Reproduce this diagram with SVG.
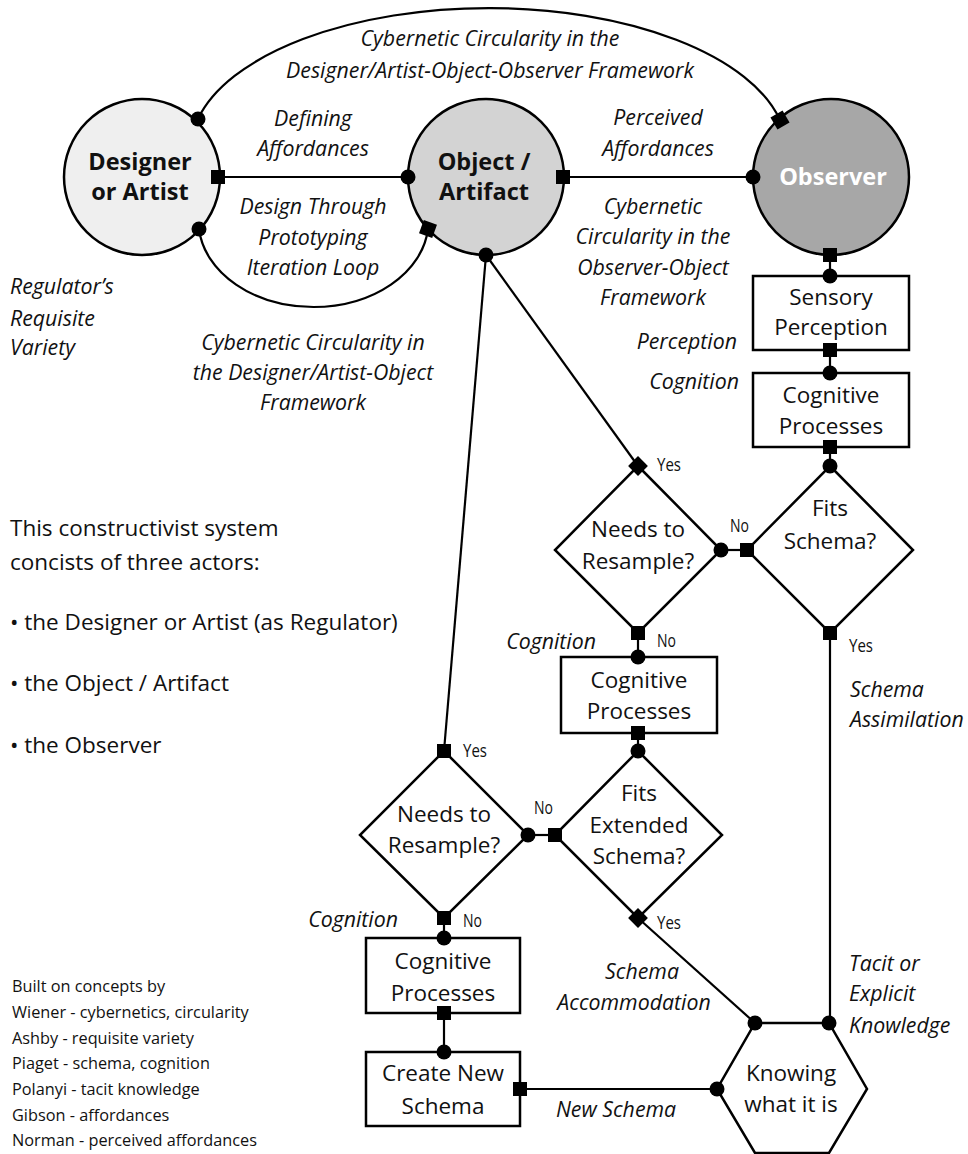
<svg xmlns="http://www.w3.org/2000/svg" width="968" height="1154" viewBox="0 0 968 1154">
<defs>
<style>
.shape{stroke:#000;stroke-width:2.5;}
.ln{stroke:#000;stroke-width:2.2;fill:none;}
.dot{fill:#000;}
.t{font-family:"Open Sans","Noto Sans","DejaVu Sans",sans-serif;fill:#111;text-anchor:middle;}
.n{font-size:22.5px;}
.b{font-size:23.5px;font-weight:bold;}
.i{font-family:"Open Sans","Noto Sans","DejaVu Sans",sans-serif;font-style:italic;font-size:21.3px;fill:#111;}
.c{text-anchor:middle;}
.r{text-anchor:end;}
.s{font-family:"Open Sans","Noto Sans","DejaVu Sans",sans-serif;font-size:17.5px;fill:#111;}
.body{font-family:"Open Sans","Noto Sans","DejaVu Sans",sans-serif;font-size:22.5px;fill:#111;}
.cr{font-family:"Open Sans","Noto Sans","DejaVu Sans",sans-serif;font-size:16.3px;fill:#111;}
</style>
<circle id="mdot" r="7.5" class="dot"/>
<rect id="msq" x="-7" y="-7" width="14" height="14" class="dot"/>
</defs>
<rect width="968" height="1154" fill="#fff"/>

<g id="connectors">
<path class="ln" d="M198,119 A298,142 0 0 1 780,120"/>
<path class="ln" d="M199,229 A115,86 0 0 0 428,229"/>
<line class="ln" x1="218" y1="177" x2="408" y2="177"/>
<line class="ln" x1="563" y1="177" x2="753" y2="177"/>
<line class="ln" x1="486" y1="255" x2="444" y2="751"/>
<line class="ln" x1="486" y1="255" x2="638" y2="466"/>
<line class="ln" x1="830" y1="255" x2="830" y2="276"/>
<line class="ln" x1="830" y1="350" x2="830" y2="373"/>
<line class="ln" x1="830" y1="447" x2="830" y2="466"/>
<line class="ln" x1="721" y1="550" x2="747" y2="550"/>
<line class="ln" x1="638" y1="633" x2="638" y2="657"/>
<line class="ln" x1="638" y1="733" x2="638" y2="751"/>
<line class="ln" x1="528" y1="835" x2="555" y2="835"/>
<line class="ln" x1="444" y1="918" x2="444" y2="938"/>
<line class="ln" x1="444" y1="1013" x2="444" y2="1052"/>
<line class="ln" x1="520" y1="1089" x2="717" y2="1089"/>
<line class="ln" x1="638" y1="918" x2="755" y2="1023"/>
<line class="ln" x1="830" y1="633" x2="830" y2="1023"/>
</g>

<g id="designer">
<circle class="shape" cx="142" cy="177" r="78" fill="#efefef"/>
<text class="t b" x="140" y="170">Designer</text>
<text class="t b" x="140" y="200">or Artist</text>
</g>
<g id="object">
<circle class="shape" cx="486" cy="177" r="78" fill="#d3d3d3"/>
<text class="t b" x="484" y="170">Object /</text>
<text class="t b" x="484" y="200">Artifact</text>
</g>
<g id="observer">
<circle class="shape" cx="831" cy="177" r="78" fill="#a7a7a7"/>
<text class="t b" x="833" y="185" style="fill:#fff">Observer</text>
</g>
<g id="sensory">
<rect class="shape" x="753" y="276" width="156" height="74" fill="#fff"/>
<text class="t n" x="831" y="305">Sensory</text>
<text class="t n" x="831" y="335">Perception</text>
</g>
<g id="cognitive1">
<rect class="shape" x="753" y="373" width="156" height="74" fill="#fff"/>
<text class="t n" x="831" y="403">Cognitive</text>
<text class="t n" x="831" y="434">Processes</text>
</g>
<g id="fits-schema">
<polygon class="shape" points="830,466 913,550 830,633 747,550" fill="#fff"/>
<text class="t n" x="830" y="516">Fits</text>
<text class="t n" x="830" y="549">Schema?</text>
</g>
<g id="resample1">
<polygon class="shape" points="638,466 721,550 638,633 555,550" fill="#fff"/>
<text class="t n" x="638" y="537">Needs to</text>
<text class="t n" x="638" y="569">Resample?</text>
</g>
<g id="cognitive2">
<rect class="shape" x="561" y="657" width="156" height="76" fill="#fff"/>
<text class="t n" x="639" y="688">Cognitive</text>
<text class="t n" x="639" y="719">Processes</text>
</g>
<g id="fits-extended">
<polygon class="shape" points="638,751 722,835 638,918 555,835" fill="#fff"/>
<text class="t n" x="639" y="801">Fits</text>
<text class="t n" x="639" y="833">Extended</text>
<text class="t n" x="639" y="864">Schema?</text>
</g>
<g id="resample2">
<polygon class="shape" points="444,751 528,835 444,918 360,835" fill="#fff"/>
<text class="t n" x="444" y="822">Needs to</text>
<text class="t n" x="444" y="853">Resample?</text>
</g>
<g id="cognitive3">
<rect class="shape" x="366" y="938" width="154" height="75" fill="#fff"/>
<text class="t n" x="443" y="969">Cognitive</text>
<text class="t n" x="443" y="1001">Processes</text>
</g>
<g id="create-schema">
<rect class="shape" x="366" y="1052" width="154" height="74" fill="#fff"/>
<text class="t n" x="443" y="1081">Create New</text>
<text class="t n" x="443" y="1114">Schema</text>
</g>
<g id="knowing">
<polygon class="shape" points="755,1023 829,1023 867,1089 829,1153 755,1153 717,1089" fill="#fff"/>
<text class="t n" x="791" y="1081">Knowing</text>
<text class="t n" x="791" y="1112">what it is</text>
</g>

<g id="markers">
<use href="#mdot" x="198" y="119"/>
<use href="#mdot" x="199" y="229"/>
<use href="#msq" x="218" y="177"/>
<use href="#mdot" x="408" y="177"/>
<use href="#msq" x="563" y="177"/>
<use href="#mdot" x="753" y="177"/>
<use href="#msq" transform="translate(780,120) rotate(60)"/>
<use href="#msq" transform="translate(428,229) rotate(20)"/>
<use href="#mdot" x="486" y="255"/>
<use href="#msq" x="830" y="255"/>
<use href="#mdot" x="830" y="276"/>
<use href="#msq" x="830" y="350"/>
<use href="#mdot" x="830" y="373"/>
<use href="#msq" x="830" y="447"/>
<use href="#mdot" x="830" y="466"/>
<use href="#msq" transform="translate(638,466) rotate(45)"/>
<use href="#mdot" x="721" y="550"/>
<use href="#msq" x="747" y="550"/>
<use href="#msq" x="638" y="633"/>
<use href="#msq" x="830" y="633"/>
<use href="#mdot" x="638" y="657"/>
<use href="#msq" x="638" y="733"/>
<use href="#mdot" x="638" y="751"/>
<use href="#msq" x="444" y="751"/>
<use href="#mdot" x="528" y="835"/>
<use href="#msq" x="555" y="835"/>
<use href="#msq" transform="translate(638,918) rotate(45)"/>
<use href="#msq" x="444" y="918"/>
<use href="#mdot" x="444" y="938"/>
<use href="#msq" x="444" y="1013"/>
<use href="#mdot" x="444" y="1052"/>
<use href="#msq" x="520" y="1089"/>
<use href="#mdot" x="717" y="1089"/>
<use href="#mdot" x="755" y="1023"/>
<use href="#mdot" x="829" y="1023"/>
</g>

<g id="labels">
<text class="i c" x="490" y="46">Cybernetic Circularity in the</text>
<text class="i c" x="490" y="78">Designer/Artist-Object-Observer Framework</text>
<text class="i c" x="313" y="126">Defining</text>
<text class="i c" x="313" y="156">Affordances</text>
<text class="i c" x="313" y="214">Design Through</text>
<text class="i c" x="313" y="245">Prototyping</text>
<text class="i c" x="313" y="275">Iteration Loop</text>
<text class="i c" x="658" y="125">Perceived</text>
<text class="i c" x="658" y="156">Affordances</text>
<text class="i c" x="653" y="214">Cybernetic</text>
<text class="i c" x="653" y="244">Circularity in the</text>
<text class="i c" x="653" y="275">Observer-Object</text>
<text class="i c" x="653" y="305">Framework</text>
<text class="i" x="10" y="294">Regulator’s</text>
<text class="i" x="10" y="326">Requisite</text>
<text class="i" x="10" y="355">Variety</text>
<text class="i c" x="313" y="350">Cybernetic Circularity in</text>
<text class="i c" x="313" y="380">the Designer/Artist-Object</text>
<text class="i c" x="313" y="410">Framework</text>
<text class="i r" x="737" y="349">Perception</text>
<text class="i r" x="739" y="389">Cognition</text>
<text class="i r" x="596" y="649">Cognition</text>
<text class="i r" x="398" y="927">Cognition</text>
<text class="i" x="850" y="697">Schema</text>
<text class="i" x="850" y="727">Assimilation</text>
<text class="i" x="849" y="971">Tacit or</text>
<text class="i" x="849" y="1001">Explicit</text>
<text class="i" x="849" y="1033">Knowledge</text>
<text class="i c" x="642" y="979">Schema</text>
<text class="i c" x="634" y="1010">Accommodation</text>
<text class="i c" x="616" y="1117">New Schema</text>
<text class="s" x="657" y="471" textLength="24" lengthAdjust="spacingAndGlyphs">Yes</text>
<text class="s" x="730" y="532" textLength="19" lengthAdjust="spacingAndGlyphs">No</text>
<text class="s" x="849" y="652" textLength="24" lengthAdjust="spacingAndGlyphs">Yes</text>
<text class="s" x="657" y="647" textLength="19" lengthAdjust="spacingAndGlyphs">No</text>
<text class="s" x="463" y="757" textLength="24" lengthAdjust="spacingAndGlyphs">Yes</text>
<text class="s" x="534" y="814" textLength="19" lengthAdjust="spacingAndGlyphs">No</text>
<text class="s" x="463" y="927" textLength="19" lengthAdjust="spacingAndGlyphs">No</text>
<text class="s" x="657" y="929" textLength="24" lengthAdjust="spacingAndGlyphs">Yes</text>
<text class="body" x="10" y="536">This constructivist system</text>
<text class="body" x="10" y="570">concists of three actors:</text>
<text class="body" x="10" y="630">• the Designer or Artist (as Regulator)</text>
<text class="body" x="10" y="691">• the Object / Artifact</text>
<text class="body" x="10" y="753">• the Observer</text>
<text class="cr" x="12" y="992">Built on concepts by</text>
<text class="cr" x="12" y="1018">Wiener - cybernetics, circularity</text>
<text class="cr" x="12" y="1044">Ashby - requisite variety</text>
<text class="cr" x="12" y="1069">Piaget - schema, cognition</text>
<text class="cr" x="12" y="1095">Polanyi - tacit knowledge</text>
<text class="cr" x="12" y="1121">Gibson - affordances</text>
<text class="cr" x="12" y="1146">Norman - perceived affordances</text>
</g>
</svg>
